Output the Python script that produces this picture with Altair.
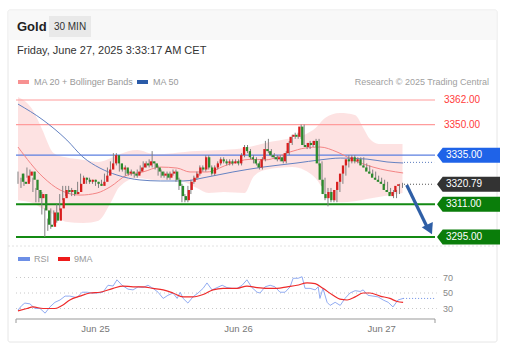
import altair as alt
import pandas as pd

# ---------------- data ----------------
first_open = 3326.0
closes = [3322, 3321, 3325, 3327, 3323, 3318, 3314, 3316, 3308, 3301,
          3300, 3307, 3303, 3309, 3314, 3318, 3317, 3318, 3316, 3317,
          3321, 3324, 3323, 3322, 3323, 3322, 3321, 3320, 3322, 3325,
          3328, 3331, 3335, 3331, 3328, 3329, 3326, 3327, 3326, 3325,
          3327, 3329, 3331, 3330, 3332, 3331, 3329, 3327, 3325, 3326,
          3324, 3326, 3327, 3323, 3320, 3315, 3313, 3318, 3322, 3324,
          3326, 3329, 3328, 3334, 3329, 3326, 3329, 3331, 3333, 3332,
          3331, 3332, 3331, 3332, 3331, 3335, 3339, 3337, 3334, 3333,
          3331, 3329, 3333, 3338, 3337, 3335, 3334, 3333, 3334, 3332,
          3336, 3341, 3344, 3345, 3344, 3349, 3340, 3339, 3341, 3340,
          3342, 3331, 3323, 3316, 3314, 3317, 3313, 3318, 3322, 3326,
          3330, 3333, 3332, 3334, 3332, 3333, 3330, 3329, 3327, 3326,
          3324, 3323, 3322, 3321, 3318, 3317, 3315, 3317, 3320, 3320.79]
highs = [3327, 3324, 3326, 3329, 3328, 3324, 3319, 3318, 3317, 3309,
         3304, 3309, 3308, 3311, 3316, 3320, 3320, 3320, 3319, 3318,
         3322, 3326, 3325, 3324, 3324, 3323, 3323, 3322, 3323, 3326,
         3329, 3332, 3336, 3336, 3332, 3330, 3330, 3328, 3328, 3327,
         3328, 3330, 3332, 3332, 3333, 3337, 3332, 3330, 3328, 3327,
         3327, 3327, 3328, 3328, 3324, 3321, 3316, 3320, 3323, 3325,
         3327, 3330, 3330, 3335, 3335, 3330, 3330, 3332, 3334, 3334,
         3333, 3333, 3333, 3333, 3333, 3336, 3340, 3340, 3338, 3335,
         3334, 3332, 3334, 3342, 3343, 3338, 3336, 3335, 3335, 3335,
         3337, 3342, 3345, 3346, 3346, 3350, 3350, 3341, 3342, 3342,
         3343, 3343, 3332, 3324, 3319, 3319, 3318, 3320, 3324, 3327,
         3331, 3335, 3335, 3335, 3334, 3334, 3334, 3331, 3330, 3328,
         3327, 3325, 3324, 3323, 3322, 3319, 3318, 3318, 3321, 3321.5]
lows = [3321, 3319, 3320, 3324, 3322, 3317, 3312, 3312, 3306, 3295,
        3298, 3299, 3301, 3302, 3308, 3313, 3315, 3316, 3315, 3315,
        3316, 3320, 3321, 3321, 3321, 3321, 3320, 3319, 3320, 3321,
        3324, 3327, 3330, 3330, 3327, 3327, 3325, 3325, 3325, 3324,
        3324, 3326, 3328, 3329, 3329, 3329, 3328, 3325, 3324, 3324,
        3323, 3323, 3325, 3322, 3318, 3312, 3312, 3312, 3316, 3321,
        3323, 3325, 3327, 3327, 3328, 3325, 3325, 3328, 3330, 3331,
        3330, 3330, 3330, 3331, 3330, 3330, 3334, 3336, 3333, 3331,
        3330, 3328, 3328, 3332, 3336, 3334, 3333, 3332, 3332, 3331,
        3331, 3335, 3340, 3343, 3343, 3343, 3339, 3338, 3338, 3339,
        3339, 3330, 3320, 3313, 3310, 3312, 3312, 3312, 3317, 3321,
        3325, 3329, 3331, 3331, 3331, 3331, 3329, 3328, 3326, 3325,
        3323, 3322, 3321, 3320, 3317, 3316, 3314, 3314, 3316, 3319]

ma20_t = [0, 8.4, 14.1, 20.8, 26.5, 30.9, 36.6, 41.9, 47.7, 53.4, 57.7, 63.4,
          70.1, 77.9, 82.9, 91.3, 96.3, 101.3, 107, 112.4, 119.1, 129.2]
ma20_v = [3339.0, 3324.3, 3318.0, 3315.5, 3316.5, 3319.5, 3325.3, 3326.8, 3329.2,
          3328.7, 3326.8, 3326.8, 3330.2, 3333.0, 3332.7, 3336.6, 3338.5, 3339.0,
          3336.6, 3332.7, 3329.2, 3326.3]
ma50_t = [0, 8.4, 16.4, 21.8, 27.5, 33.2, 40.9, 47.7, 55.4, 63.4, 72.1, 82.2,
          93.6, 101.3, 108.1, 117.1, 123.8, 129.2]
ma50_v = [3360.0, 3352.2, 3342.4, 3334.1, 3328.7, 3325.3, 3322.9, 3322.4, 3322.4,
          3324.3, 3326.8, 3329.2, 3331.2, 3332.7, 3333.6, 3333.1, 3331.7, 3331.2]
band_t = [0, 5, 8, 12, 16, 22, 27, 31, 34, 40, 46, 52, 56, 60, 64, 69, 76, 79,
          83, 92, 96, 100, 103, 108, 113, 116, 118, 121, 129]
band_up = [3363.5, 3357.0, 3348.0, 3336.0, 3334.0, 3332.7, 3331.7, 3333.5, 3335.5,
           3337.6, 3335.5, 3336.0, 3336.6, 3337.0, 3337.3, 3337.6, 3338.5, 3339.5,
           3341.0, 3343.4, 3344.9, 3348.5, 3353.2, 3355.6, 3354.7, 3348.0, 3343.0,
           3340.5, 3340.5]
band_lo = [3313.0, 3311.6, 3309.0, 3306.0, 3302.5, 3301.9, 3303.0, 3311.5, 3319.5,
           3323.9, 3322.9, 3322.9, 3321.8, 3319.0, 3316.5, 3317.0, 3316.5, 3324.5,
           3327.8, 3329.2, 3327.8, 3323.5, 3317.0, 3312.0, 3312.5, 3313.2, 3313.8,
           3314.6, 3316.5]

rsi_t = [0, 1.3, 2.3, 4, 5.7, 7.4, 9.1, 10.7, 12.4, 14.1, 15.8, 17.4, 19.8, 21.5,
         23.2, 24.8, 26.5, 28.5, 30.2, 31.9, 33.2, 34.9, 36.9, 38.6, 40.3, 41.9,
         43.6, 45.3, 47, 48.7, 50.3, 52, 53.4, 54.4, 55.4, 57, 58.7, 60.4, 62.1,
         63.4, 65.1, 66.8, 68.5, 70.1, 71.8, 73.5, 75.2, 76.8, 78.5, 80.2, 81.2,
         82.9, 84.6, 86.2, 87.9, 89.6, 91.3, 92.3, 94, 95.3, 96.3, 98, 99.7, 100.7,
         101.3, 102.3, 103.7, 104.7, 106.4, 108.1, 109.7, 111.4, 113.1, 114.8,
         115.8, 117.4, 119.1, 120.8, 122.5, 124.2, 125.8, 127.5, 129.2]
rsi_v = [28, 34, 37, 36, 30, 30, 24, 32, 38, 41, 46, 46, 44, 51,
         51, 50, 50, 51, 60, 59, 67, 60, 55, 54, 58, 57,
         60, 56, 51, 43, 47, 50, 43, 51, 43, 37, 45, 50, 56,
         63, 54, 57, 60, 57, 56, 56, 60, 67, 57, 51, 50,
         58, 60, 58, 51, 51, 58, 69, 69, 71, 56, 56, 54, 58,
         43, 56, 38, 34, 38, 34, 43, 50, 53, 52,
         54, 47, 46, 45, 41, 38, 32, 41, 43]
ma9_t = [0, 3, 5, 8.4, 12.4, 14.8, 17.4, 20.8, 24.2, 27.5, 31.9, 35.2, 38.6, 41.9,
         45.3, 48.7, 52, 55.4, 58.7, 62.1, 65.4, 68.8, 73.5, 76.8, 80.2, 83.6,
         86.9, 90.3, 93.6, 97, 99.7, 102.3, 105.7, 108, 110.4, 113.1, 115.8,
         118.1, 121.5, 124.8, 127.2, 129.2]
ma9_v = [27, 30, 32, 30, 30, 34, 41, 46, 50, 51, 56, 59, 58, 58,
         56, 54, 50, 45, 45, 48, 54, 56, 56, 59, 57, 56,
         56, 58, 60, 63, 62, 56, 47, 42, 41, 45, 50,
         50, 46, 43, 39, 38]
rsi_last = 43

resistances = [3362.00, 3350.00]
pivot = 3335.00
supports = [3311.00, 3295.00]
last_price = 3320.79
ma50_last = 3331.5
target_from = [130.4, 3320.4]
target_to = [137.2, 3300.0]
target_head = [138.1, 3298.7]
rsi_levels = [70, 50, 30]
date_labels = ["Jun 25", "Jun 26", "Jun 27"]
date_idx = [26, 74, 122]

# ---------------- scales ----------------
XDOM = [-0.67, 139.9]
XRNG = [16, 435]
PDOM = [3295, 3362]
PRNG = [237, 100]
RDOM = [30, 70]
RRNG = [308.5, 277.5]
FONT = "Liberation Sans"

def X(f, **kw):
    return alt.X(f, type="quantitative", scale=alt.Scale(domain=XDOM, range=XRNG, nice=False, zero=False), axis=None, **kw)

def YP(f):
    return alt.Y(f, type="quantitative", scale=alt.Scale(domain=PDOM, range=PRNG, nice=False, zero=False), axis=None)

def YR(f):
    return alt.Y(f, type="quantitative", scale=alt.Scale(domain=RDOM, range=RRNG, nice=False, zero=False), axis=None)

one = pd.DataFrame({"a": [0]})

def txt(s, x, y, size=10, color="#333", weight="normal", align="left", baseline="alphabetic"):
    return alt.Chart(one).mark_text(text=s, font=FONT, fontSize=size, color=color, fontWeight=weight,
                                    align=align, baseline=baseline).encode(x=alt.value(x), y=alt.value(y))

def box(x1, x2, y1, y2, fill, stroke=None, radius=0, sw=1):
    kw = dict(fill=fill, cornerRadius=radius)
    if stroke:
        kw.update(stroke=stroke, strokeWidth=sw)
    return alt.Chart(one).mark_rect(**kw).encode(
        x=alt.value(x1), x2=alt.value(x2), y=alt.value(y1), y2=alt.value(y2))

# ---------------- tables ----------------
opens = [first_open] + closes[:-1]
candles = pd.DataFrame({
    "t": list(range(len(closes))), "open": opens, "close": closes,
    "high": highs, "low": lows,
})
candles["dir"] = ["up" if c >= o else "down" for o, c in zip(opens, closes)]

band = pd.DataFrame({"t": band_t, "up": band_up, "lo": band_lo})
ma20 = pd.DataFrame({"t": ma20_t, "v": ma20_v})
ma50 = pd.DataFrame({"t": ma50_t, "v": ma50_v})
rsi = pd.DataFrame({"t": rsi_t, "v": rsi_v})
ma9 = pd.DataFrame({"t": ma9_t, "v": ma9_v})

# ---------------- frame / header ----------------
layers = []
layers.append(box(8, 497, 10, 342, "#ffffff", stroke="#e6e6e6", radius=2))
layers.append(box(8.5, 496.5, 10.5, 40, "#f8f8f8"))
layers.append(box(49, 91, 16, 37, "#e9e9e9"))
layers.append(txt("Gold", 17, 31, size=13, color="#222", weight="bold"))
layers.append(txt("30 MIN", 70, 30, size=10, color="#333", align="center"))
layers.append(txt("Friday, June 27, 2025 3:33:17 AM CET", 17, 54, size=11, color="#333"))

# legends
layers.append(box(18, 29, 80, 84, "#f79191"))
layers.append(txt("MA 20 + Bollinger Bands", 34, 85, size=9, color="#999"))
layers.append(box(137, 148, 80, 84, "#2a5ba8"))
layers.append(txt("MA 50", 153, 85, size=9, color="#999"))
layers.append(txt("Research \u00a9 2025 Trading Central", 489, 85, size=9, color="#a0a0a0", align="right"))

# separator
sep = alt.Chart(one).mark_rule(color="#e2e2e2", strokeDash=[2, 2]).encode(
    x=alt.value(8), x2=alt.value(497), y=alt.value(246))
layers.append(sep)

# ---------------- price panel ----------------
layers.append(alt.Chart(band).mark_area(color="#fcd6d6", opacity=0.7, interpolate="monotone").encode(
    x=X("t"), y=YP("up"), y2="lo"))

lv_res = pd.DataFrame({"p": resistances, "t0": XDOM[0], "t1": XDOM[1]})
layers.append(alt.Chart(lv_res).mark_rule(color="#ff9c9c", strokeWidth=1.2).encode(
    x=X("t0"), x2="t1", y=YP("p")))
lv_piv = pd.DataFrame({"p": [pivot], "t0": XDOM[0], "t1": XDOM[1]})
layers.append(alt.Chart(lv_piv).mark_rule(color="#5b7fe0", strokeWidth=1.3).encode(
    x=X("t0"), x2="t1", y=YP("p")))
lv_sup = pd.DataFrame({"p": supports, "t0": XDOM[0], "t1": XDOM[1]})
layers.append(alt.Chart(lv_sup).mark_rule(color="#138a13", strokeWidth=2).encode(
    x=X("t0"), x2="t1", y=YP("p")))

layers.append(alt.Chart(ma20).mark_line(color="#f48585", strokeWidth=1, interpolate="monotone").encode(
    x=X("t"), y=YP("v")))
layers.append(alt.Chart(ma50).mark_line(color="#6482c2", strokeWidth=1, interpolate="monotone").encode(
    x=X("t"), y=YP("v")))

layers.append(alt.Chart(candles).mark_rule(color="#808080", strokeWidth=1).encode(
    x=X("t"), y=YP("low"), y2="high"))
layers.append(alt.Chart(candles).mark_bar(size=2.3).encode(
    x=X("t"), y=YP("open"), y2="close",
    color=alt.Color("dir:N", scale=alt.Scale(domain=["up", "down"], range=["#d91e1e", "#2b8a2b"]), legend=None)))

# dotted extensions
ext = pd.DataFrame({"p": [last_price], "t0": [129.5], "t1": [139.6]})
layers.append(alt.Chart(ext).mark_rule(color="#555", strokeDash=[1, 2]).encode(
    x=X("t0"), x2="t1", y=YP("p")))
ext2 = pd.DataFrame({"p": [ma50_last], "t0": [129.5], "t1": [139.6]})
layers.append(alt.Chart(ext2).mark_rule(color="#5a7bbf", strokeDash=[1, 2]).encode(
    x=X("t0"), x2="t1", y=YP("p")))

# target arrow
arr = pd.DataFrame({"t0": [target_from[0]], "p0": [target_from[1]], "t1": [target_to[0]], "p1": [target_to[1]]})
layers.append(alt.Chart(arr).mark_rule(color="#2f5fa6", strokeWidth=3.2).encode(
    x=X("t0"), x2="t1", y=YP("p0"), y2="p1"))
head = pd.DataFrame({"t": [target_head[0]], "p": [target_head[1]]})
layers.append(alt.Chart(head).mark_point(shape="triangle-up", angle=154, size=150, filled=True,
                                         color="#2f5fa6", opacity=1).encode(x=X("t"), y=YP("p")))

# right labels
TAG = "M -1 0 L -0.82 -0.24 L 1 -0.24 L 1 0.24 L -0.82 0.24 Z"
res_lab = pd.DataFrame({"p": resistances, "s": [f"{v:.2f}" for v in resistances]})
layers.append(alt.Chart(res_lab).mark_text(font=FONT, fontSize=10, color="#ff3b3b", align="left", baseline="middle").encode(
    x=alt.value(444), y=YP("p"), text="s:N"))
tags = pd.DataFrame({
    "p": [pivot, last_price] + supports,
    "s": [f"{v:.2f}" for v in [pivot, last_price] + supports],
    "k": ["pivot", "last", "sup1", "sup2"],
})
layers.append(alt.Chart(tags).mark_point(shape=TAG, size=3969, filled=True, opacity=1, strokeWidth=0).encode(
    x=alt.value(468.5), y=YP("p"),
    color=alt.Color("k:N", scale=alt.Scale(domain=["pivot", "last", "sup1", "sup2"],
                                          range=["#1f63e8", "#333333", "#0a7d0a", "#0a7d0a"]), legend=None)))
layers.append(alt.Chart(tags).mark_text(font=FONT, fontSize=10, color="white", align="left", baseline="middle").encode(
    x=alt.value(446), y=YP("p"), text="s:N"))

# ---------------- RSI panel ----------------
layers.append(box(18, 30, 257, 261, "#6d8fe6"))
layers.append(txt("RSI", 34, 262, size=9, color="#999"))
layers.append(box(58, 70, 257, 261, "#ee1b1b"))
layers.append(txt("9MA", 74, 262, size=9, color="#999"))

grid = pd.DataFrame({"v": rsi_levels, "s": [str(v) for v in rsi_levels], "t0": XDOM[0], "t1": 140.5})
layers.append(alt.Chart(grid).mark_rule(color="#c8c8c8", strokeDash=[1, 3]).encode(
    x=X("t0"), x2="t1", y=YR("v")))
layers.append(alt.Chart(grid).mark_text(font=FONT, fontSize=9, color="#888", align="left", baseline="middle").encode(
    x=alt.value(443), y=YR("v"), text="s:N"))

layers.append(alt.Chart(rsi).mark_line(color="#92acf2", strokeWidth=1).encode(x=X("t"), y=YR("v")))
layers.append(alt.Chart(ma9).mark_line(color="#ee2a2a", strokeWidth=1.2, interpolate="monotone").encode(x=X("t"), y=YR("v")))
rext = pd.DataFrame({"v": [rsi_last], "t0": [129.2], "t1": [139.6]})
layers.append(alt.Chart(rext).mark_rule(color="#6d8fe6", strokeDash=[1, 2]).encode(
    x=X("t0"), x2="t1", y=YR("v")))

# bottom axis (bracket)
ax = pd.DataFrame({"t0": [XDOM[0]], "t1": [XDOM[1]]})
layers.append(alt.Chart(ax).mark_rule(color="#999", strokeWidth=1).encode(
    x=X("t0"), x2="t1", y=alt.value(319)))
ends = pd.DataFrame({"t": XDOM})
layers.append(alt.Chart(ends).mark_rule(color="#999", strokeWidth=1).encode(
    x=X("t"), y=alt.value(319), y2=alt.value(323)))
dl = pd.DataFrame({"t": date_idx, "s": date_labels})
layers.append(alt.Chart(dl).mark_text(font=FONT, fontSize=9.5, color="#777", align="center", baseline="alphabetic").encode(
    x=X("t"), y=alt.value(332), text="s:N"))

chart = alt.layer(*layers).resolve_scale(
    x="independent", y="independent", color="independent"
).properties(
    width=509, height=352, padding=0,
    autosize=alt.AutoSizeParams(type="none"),
    background="white",
).configure_view(strokeWidth=0)

chart.save("out.html", embed_options={"renderer": "svg", "actions": False})
